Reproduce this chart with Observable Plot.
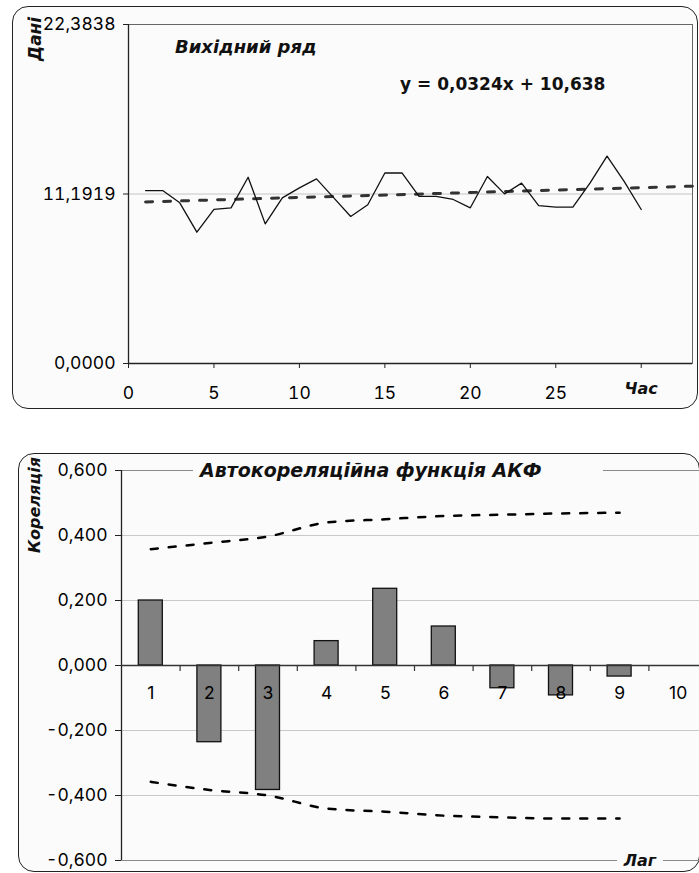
<!DOCTYPE html>
<html><head><meta charset="utf-8">
<script src="https://cdn.jsdelivr.net/npm/d3@7"></script>
<script src="https://cdn.jsdelivr.net/npm/@observablehq/plot@0.6"></script>
<style>
body{margin:0;background:#fff;}
#wrap{position:relative;width:699px;height:873px;overflow:hidden;font-family:Inter,sans-serif;}
.frame{position:absolute;border:1.5px solid #222;border-radius:16px;background:#fbfbfb;box-sizing:border-box;}
.layer{position:absolute;left:0;max-width:none !important;}
.lbl{position:absolute;font-family:"DejaVu Sans",sans-serif;font-weight:bold;font-style:italic;color:#111;white-space:nowrap;line-height:1;}
</style></head><body><div id="wrap"></div>
<script>
// ---------- data: top chart (source series) ----------
const time = [1,2,3,4,5,6,7,8,9,10,11,12,13,14,15,16,17,18,19,20,21,22,23,24,25,26,27,28,29,30];
const values = [11.42,11.42,10.61,8.67,10.17,10.28,12.30,9.22,10.94,11.60,12.19,10.95,9.71,10.48,12.58,12.58,11.03,11.03,10.83,10.28,12.35,11.20,11.91,10.43,10.32,10.32,11.91,13.69,12.02,10.17];
const trendX = [1, 33];
const trendY = [10.67, 11.71];
const topYTicks = [0, 11.1919, 22.3838];
const topXTicks = [0, 5, 10, 15, 20, 25, 30];
const topXDomain = [0, 33];
const topTitle = "Вихідний ряд";
const topEquation = "y = 0,0324x + 10,638";
const topYLabel = "Дані";
const topXLabel = "Час";

// ---------- data: bottom chart (ACF) ----------
const lags = [1,2,3,4,5,6,7,8,9,10];
const acf = [0.200,-0.236,-0.383,0.075,0.236,0.120,-0.070,-0.092,-0.034,0];
const confLags = [1,2,3,4,5,6,7,8,9];
const confUpper = [0.358,0.377,0.397,0.440,0.450,0.460,0.464,0.468,0.470];
const confLower = [-0.358,-0.383,-0.400,-0.440,-0.450,-0.462,-0.467,-0.471,-0.471];
const acfYTicks = [-0.6,-0.4,-0.2,0,0.2,0.4,0.6];
const acfTitle = "Автокореляційна функція АКФ";
const acfYLabel = "Кореляція";
const acfXLabel = "Лаг";

const FONT = "Inter, sans-serif";
const FS = 17.5;
const wrap = document.getElementById("wrap");
function addDiv(cls, css, text){
  const d = document.createElement("div");
  d.className = cls; d.style.cssText = css;
  if (text != null) d.textContent = text;
  wrap.appendChild(d); return d;
}
const comma = (k) => (v) => d3.format("." + k + "f")(v).replace(".", ",").replace("−", "-");

// frames
addDiv("frame", "left:12px;top:6px;width:686px;height:403px;");
addDiv("frame", "left:18px;top:453px;width:682px;height:419px;");

// ---------- top chart ----------
const series = time.map((t, i) => ({t, v: values[i]}));
const trend = trendX.map((x, i) => ({x, y: trendY[i]}));
const topChart = Plot.plot({
  width: 699, height: 410,
  marginLeft: 128, marginRight: 7, marginTop: 24, marginBottom: 47,
  style: {background: "transparent", fontFamily: FONT, fontSize: FS + "px", overflow: "visible", color: "#000", maxWidth: "none"},
  x: {domain: topXDomain},
  y: {domain: [topYTicks[0], topYTicks[2]]},
  marks: [
    Plot.gridY([topYTicks[1]], {stroke: "#c4c4c4", strokeOpacity: 1}),
    Plot.frame({stroke: "#666"}),
    Plot.axisY({ticks: topYTicks, tickFormat: comma(4), tickSize: 5, tickPadding: 8, fontSize: FS, fontFamily: FONT, label: null, stroke: "#222", fill: "#000"}),
    Plot.axisX({ticks: topXTicks, tickFormat: (d) => d === topXTicks[topXTicks.length - 1] ? "" : String(d), tickSize: 5, tickPadding: 18, fontSize: FS, fontFamily: FONT, label: null, stroke: "#222", fill: "#000"}),
    Plot.ruleX([topXDomain[0]], {stroke: "#222", strokeWidth: 1.3}),
    Plot.ruleY([topYTicks[0]], {stroke: "#222", strokeWidth: 1.3}),
    Plot.line(trend, {x: "x", y: "y", stroke: "#333", strokeWidth: 3, strokeDasharray: "7,11"}),
    Plot.line(series, {x: "t", y: "v", stroke: "#111", strokeWidth: 1.3}),
    Plot.text([topXLabel], {x: topXTicks[topXTicks.length - 1], frameAnchor: "bottom", dy: 30, text: (d) => d, fontFamily: "DejaVu Sans, sans-serif", fontWeight: "bold", fontStyle: "italic", fontSize: 16, fill: "#111"})
  ]
});
topChart.classList.add("layer"); topChart.style.top = "0px";
wrap.appendChild(topChart);

addDiv("lbl", "left:27px;top:61px;font-size:17px;transform-origin:0 0;transform:rotate(-90deg);", topYLabel);
addDiv("lbl", "left:175px;top:38px;font-size:18px;", topTitle);
addDiv("lbl", "left:400px;top:76px;font-size:17px;font-style:normal;", topEquation);

// ---------- bottom chart ----------
const bars = lags.map((l, i) => ({l, r: acf[i]}));
const up = confLags.map((l, i) => ({l, r: confUpper[i]}));
const lo = confLags.map((l, i) => ({l, r: confLower[i]}));
const bounds = [0, ...lags].map((l) => l + 0.5);
const bottomHolder = document.createElement("div");
bottomHolder.style.cssText = "position:absolute;left:0;top:440px;width:699px;height:433px;overflow:hidden;";
const bottomChart = Plot.plot({
  width: 720, height: 433,
  marginLeft: 121, marginRight: 13, marginTop: 30, marginBottom: 13,
  style: {background: "transparent", fontFamily: FONT, fontSize: FS + "px", overflow: "visible", color: "#000", maxWidth: "none"},
  x: {type: "linear", domain: [bounds[0], bounds[bounds.length - 1]], axis: null},
  y: {domain: [acfYTicks[0], acfYTicks[acfYTicks.length - 1]]},
  marks: [
    Plot.gridY([-0.4, -0.2, 0.2, 0.4], {stroke: "#c8c8c8", strokeOpacity: 1}),
    Plot.ruleY([acfYTicks[0], acfYTicks[acfYTicks.length - 1]], {stroke: "#8a8a8a"}),
    Plot.axisY({ticks: acfYTicks, tickFormat: comma(3), tickSize: 6, tickPadding: 8, fontSize: FS, fontFamily: FONT, label: null, stroke: "#222", fill: "#000"}),
    Plot.ruleX([bounds[0]], {stroke: "#222", strokeWidth: 1.3}),
    Plot.rectY(bars.filter((d) => d.r !== 0), {x1: (d) => d.l - 0.5, x2: (d) => d.l + 0.5, y1: 0, y2: "r", insetLeft: 17.3, insetRight: 17.3, fill: "#808080", stroke: "#111", strokeWidth: 1.3}),
    Plot.ruleY([0], {stroke: "#333", strokeWidth: 1.3}),
    Plot.ruleX(bounds.slice(1), {y1: 0, y2: -0.0185, stroke: "#333", strokeWidth: 1.2}),
    Plot.text(lags, {x: (d) => d, y: 0, dy: 28, text: (d) => String(d), fontSize: FS, fontFamily: FONT, fill: "#000"}),
    Plot.line(up, {x: "l", y: "r", curve: "monotone-x", stroke: "#000", strokeWidth: 2.5, strokeDasharray: "7,11"}),
    Plot.line(lo, {x: "l", y: "r", curve: "monotone-x", stroke: "#000", strokeWidth: 2.5, strokeDasharray: "7,11"})
  ]
});
bottomChart.style.maxWidth = "none";
bottomChart.style.width = "720px";
bottomChart.style.height = "433px";
bottomHolder.appendChild(bottomChart);
wrap.appendChild(bottomHolder);

addDiv("lbl", "left:193px;top:458px;width:403px;padding-left:7px;height:24px;background:#fbfbfb;font-size:19px;line-height:24px;", acfTitle);
addDiv("lbl", "left:27px;top:553px;font-size:16px;transform-origin:0 0;transform:rotate(-90deg);", acfYLabel);
addDiv("lbl", "left:617px;top:851px;width:46px;height:20px;background:#fbfbfb;font-size:16px;line-height:20px;text-align:center;", acfXLabel);
</script></body></html>
